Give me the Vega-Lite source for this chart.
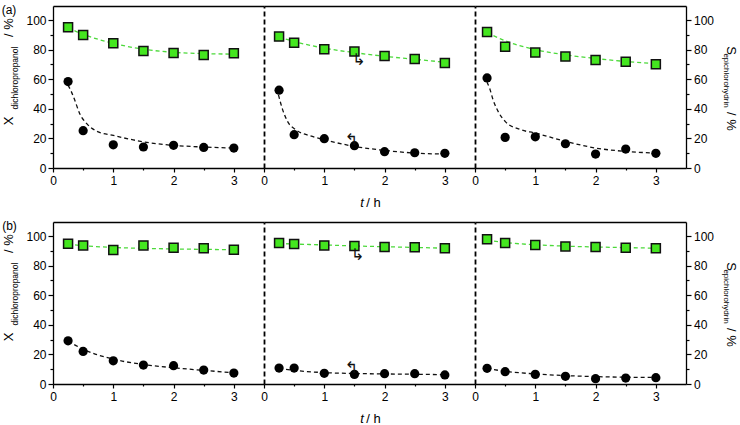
{
  "$schema": "https://vega.github.io/schema/vega-lite/v6.json",
  "padding": {"left": 1, "top": 3, "right": 2, "bottom": 2},
  "background": "white",
  "datasets": {
    "pts": [
      {"row":"a","panel":1,"series":"S","t":0.25,"value":95.1},{"row":"a","panel":1,"series":"S","t":0.5,"value":89.9},{"row":"a","panel":1,"series":"S","t":1,"value":84.3},{"row":"a","panel":1,"series":"S","t":1.5,"value":79.1},{"row":"a","panel":1,"series":"S","t":2,"value":77.8},{"row":"a","panel":1,"series":"S","t":2.5,"value":76.4},{"row":"a","panel":1,"series":"S","t":3,"value":77.5},
      {"row":"a","panel":1,"series":"X","t":0.25,"value":58.4},{"row":"a","panel":1,"series":"X","t":0.5,"value":25.2},{"row":"a","panel":1,"series":"X","t":1,"value":15.7},{"row":"a","panel":1,"series":"X","t":1.5,"value":14.2},{"row":"a","panel":1,"series":"X","t":2,"value":15.3},{"row":"a","panel":1,"series":"X","t":2.5,"value":13.9},{"row":"a","panel":1,"series":"X","t":3,"value":13.5},
      {"row":"a","panel":2,"series":"S","t":0.25,"value":88.8},{"row":"a","panel":2,"series":"S","t":0.5,"value":84.7},{"row":"a","panel":2,"series":"S","t":1,"value":80.2},{"row":"a","panel":2,"series":"S","t":1.5,"value":78.7},{"row":"a","panel":2,"series":"S","t":2,"value":75.7},{"row":"a","panel":2,"series":"S","t":2.5,"value":73.7},{"row":"a","panel":2,"series":"S","t":3,"value":71.0},
      {"row":"a","panel":2,"series":"X","t":0.25,"value":52.6},{"row":"a","panel":2,"series":"X","t":0.5,"value":22.5},{"row":"a","panel":2,"series":"X","t":1,"value":19.8},{"row":"a","panel":2,"series":"X","t":1.5,"value":15.1},{"row":"a","panel":2,"series":"X","t":2,"value":11.0},{"row":"a","panel":2,"series":"X","t":2.5,"value":10.3},{"row":"a","panel":2,"series":"X","t":3,"value":9.9},
      {"row":"a","panel":3,"series":"S","t":0.2,"value":91.9},{"row":"a","panel":3,"series":"S","t":0.5,"value":82.0},{"row":"a","panel":3,"series":"S","t":1,"value":78.0},{"row":"a","panel":3,"series":"S","t":1.5,"value":75.3},{"row":"a","panel":3,"series":"S","t":2,"value":73.0},{"row":"a","panel":3,"series":"S","t":2.5,"value":71.9},{"row":"a","panel":3,"series":"S","t":3,"value":70.1},
      {"row":"a","panel":3,"series":"X","t":0.2,"value":60.9},{"row":"a","panel":3,"series":"X","t":0.5,"value":20.7},{"row":"a","panel":3,"series":"X","t":1,"value":21.1},{"row":"a","panel":3,"series":"X","t":1.5,"value":16.4},{"row":"a","panel":3,"series":"X","t":2,"value":9.4},{"row":"a","panel":3,"series":"X","t":2.5,"value":12.8},{"row":"a","panel":3,"series":"X","t":3,"value":9.9},
      {"row":"b","panel":1,"series":"S","t":0.25,"value":94.8},{"row":"b","panel":1,"series":"S","t":0.5,"value":93.7},{"row":"b","panel":1,"series":"S","t":1,"value":90.6},{"row":"b","panel":1,"series":"S","t":1.5,"value":93.7},{"row":"b","panel":1,"series":"S","t":2,"value":92.1},{"row":"b","panel":1,"series":"S","t":2.5,"value":91.7},{"row":"b","panel":1,"series":"S","t":3,"value":90.8},
      {"row":"b","panel":1,"series":"X","t":0.25,"value":29.2},{"row":"b","panel":1,"series":"X","t":0.5,"value":22.0},{"row":"b","panel":1,"series":"X","t":1,"value":15.7},{"row":"b","panel":1,"series":"X","t":1.5,"value":12.8},{"row":"b","panel":1,"series":"X","t":2,"value":12.4},{"row":"b","panel":1,"series":"X","t":2.5,"value":9.4},{"row":"b","panel":1,"series":"X","t":3,"value":7.4},
      {"row":"b","panel":2,"series":"S","t":0.25,"value":95.3},{"row":"b","panel":2,"series":"S","t":0.5,"value":94.6},{"row":"b","panel":2,"series":"S","t":1,"value":93.7},{"row":"b","panel":2,"series":"S","t":1.5,"value":93.3},{"row":"b","panel":2,"series":"S","t":2,"value":92.6},{"row":"b","panel":2,"series":"S","t":2.5,"value":92.4},{"row":"b","panel":2,"series":"S","t":3,"value":91.7},
      {"row":"b","panel":2,"series":"X","t":0.25,"value":10.8},{"row":"b","panel":2,"series":"X","t":0.5,"value":10.8},{"row":"b","panel":2,"series":"X","t":1,"value":7.2},{"row":"b","panel":2,"series":"X","t":1.5,"value":6.5},{"row":"b","panel":2,"series":"X","t":2,"value":7.0},{"row":"b","panel":2,"series":"X","t":2.5,"value":7.0},{"row":"b","panel":2,"series":"X","t":3,"value":6.1},
      {"row":"b","panel":3,"series":"S","t":0.2,"value":97.8},{"row":"b","panel":3,"series":"S","t":0.5,"value":95.3},{"row":"b","panel":3,"series":"S","t":1,"value":93.9},{"row":"b","panel":3,"series":"S","t":1.5,"value":93.0},{"row":"b","panel":3,"series":"S","t":2,"value":92.6},{"row":"b","panel":3,"series":"S","t":2.5,"value":92.1},{"row":"b","panel":3,"series":"S","t":3,"value":91.7},
      {"row":"b","panel":3,"series":"X","t":0.2,"value":10.6},{"row":"b","panel":3,"series":"X","t":0.5,"value":8.3},{"row":"b","panel":3,"series":"X","t":1,"value":6.5},{"row":"b","panel":3,"series":"X","t":1.5,"value":5.2},{"row":"b","panel":3,"series":"X","t":2,"value":3.6},{"row":"b","panel":3,"series":"X","t":2.5,"value":4.0},{"row":"b","panel":3,"series":"X","t":3,"value":4.3}
    ],
    "fit": [
      {"row":"a","panel":1,"series":"S","t":0.25,"value":95},{"row":"a","panel":1,"series":"S","t":0.5,"value":90.3},{"row":"a","panel":1,"series":"S","t":0.75,"value":87},{"row":"a","panel":1,"series":"S","t":1,"value":84.3},{"row":"a","panel":1,"series":"S","t":1.5,"value":80.3},{"row":"a","panel":1,"series":"S","t":2,"value":78.2},{"row":"a","panel":1,"series":"S","t":2.5,"value":77.3},{"row":"a","panel":1,"series":"S","t":3,"value":77},
      {"row":"a","panel":1,"series":"X","t":0.25,"value":56},{"row":"a","panel":1,"series":"X","t":0.3,"value":52},{"row":"a","panel":1,"series":"X","t":0.36,"value":46},{"row":"a","panel":1,"series":"X","t":0.44,"value":37},{"row":"a","panel":1,"series":"X","t":0.56,"value":30},{"row":"a","panel":1,"series":"X","t":0.72,"value":25},{"row":"a","panel":1,"series":"X","t":1,"value":22},{"row":"a","panel":1,"series":"X","t":1.33,"value":19},{"row":"a","panel":1,"series":"X","t":1.61,"value":17},{"row":"a","panel":1,"series":"X","t":2,"value":15.3},{"row":"a","panel":1,"series":"X","t":2.5,"value":14.2},{"row":"a","panel":1,"series":"X","t":3,"value":13.5},
      {"row":"a","panel":2,"series":"S","t":0.25,"value":88.5},{"row":"a","panel":2,"series":"S","t":0.5,"value":85.5},{"row":"a","panel":2,"series":"S","t":1,"value":81},{"row":"a","panel":2,"series":"S","t":1.5,"value":78},{"row":"a","panel":2,"series":"S","t":2,"value":75.5},{"row":"a","panel":2,"series":"S","t":2.5,"value":73.5},{"row":"a","panel":2,"series":"S","t":3,"value":71.5},
      {"row":"a","panel":2,"series":"X","t":0.24,"value":49.4},{"row":"a","panel":2,"series":"X","t":0.31,"value":39.3},{"row":"a","panel":2,"series":"X","t":0.39,"value":31.5},{"row":"a","panel":2,"series":"X","t":0.53,"value":25.8},{"row":"a","panel":2,"series":"X","t":0.76,"value":21.8},{"row":"a","panel":2,"series":"X","t":1,"value":19.1},{"row":"a","panel":2,"series":"X","t":1.5,"value":14.6},{"row":"a","panel":2,"series":"X","t":2,"value":11.9},{"row":"a","panel":2,"series":"X","t":2.5,"value":10.1},{"row":"a","panel":2,"series":"X","t":3,"value":9.4},
      {"row":"a","panel":3,"series":"S","t":0.2,"value":91.5},{"row":"a","panel":3,"series":"S","t":0.5,"value":86},{"row":"a","panel":3,"series":"S","t":1,"value":80},{"row":"a","panel":3,"series":"S","t":1.5,"value":76.5},{"row":"a","panel":3,"series":"S","t":2,"value":74},{"row":"a","panel":3,"series":"S","t":2.5,"value":72},{"row":"a","panel":3,"series":"S","t":3,"value":70.5},
      {"row":"a","panel":3,"series":"X","t":0.2,"value":58},{"row":"a","panel":3,"series":"X","t":0.25,"value":53},{"row":"a","panel":3,"series":"X","t":0.3,"value":46},{"row":"a","panel":3,"series":"X","t":0.35,"value":41},{"row":"a","panel":3,"series":"X","t":0.4,"value":37},{"row":"a","panel":3,"series":"X","t":0.5,"value":31.5},{"row":"a","panel":3,"series":"X","t":0.75,"value":26},{"row":"a","panel":3,"series":"X","t":1,"value":23.6},{"row":"a","panel":3,"series":"X","t":1.5,"value":18},{"row":"a","panel":3,"series":"X","t":2,"value":13.5},{"row":"a","panel":3,"series":"X","t":2.5,"value":11.2},{"row":"a","panel":3,"series":"X","t":3,"value":10.1},
      {"row":"b","panel":1,"series":"S","t":0.25,"value":94.5},{"row":"b","panel":1,"series":"S","t":0.5,"value":93.5},{"row":"b","panel":1,"series":"S","t":1,"value":92.3},{"row":"b","panel":1,"series":"S","t":1.5,"value":91.7},{"row":"b","panel":1,"series":"S","t":2,"value":91.3},{"row":"b","panel":1,"series":"S","t":2.5,"value":91},{"row":"b","panel":1,"series":"S","t":3,"value":90.8},
      {"row":"b","panel":1,"series":"X","t":0.25,"value":29},{"row":"b","panel":1,"series":"X","t":0.5,"value":23.5},{"row":"b","panel":1,"series":"X","t":1,"value":16.8},{"row":"b","panel":1,"series":"X","t":1.5,"value":13.2},{"row":"b","panel":1,"series":"X","t":2,"value":11},{"row":"b","panel":1,"series":"X","t":2.5,"value":9.2},{"row":"b","panel":1,"series":"X","t":3,"value":7.6},
      {"row":"b","panel":2,"series":"S","t":0.25,"value":95},{"row":"b","panel":2,"series":"S","t":0.5,"value":94.6},{"row":"b","panel":2,"series":"S","t":1,"value":94},{"row":"b","panel":2,"series":"S","t":1.5,"value":93.3},{"row":"b","panel":2,"series":"S","t":2,"value":92.8},{"row":"b","panel":2,"series":"S","t":2.5,"value":92.3},{"row":"b","panel":2,"series":"S","t":3,"value":91.8},
      {"row":"b","panel":2,"series":"X","t":0.25,"value":10.5},{"row":"b","panel":2,"series":"X","t":0.5,"value":9.2},{"row":"b","panel":2,"series":"X","t":1,"value":7.7},{"row":"b","panel":2,"series":"X","t":1.5,"value":7.1},{"row":"b","panel":2,"series":"X","t":2,"value":6.8},{"row":"b","panel":2,"series":"X","t":2.5,"value":6.6},{"row":"b","panel":2,"series":"X","t":3,"value":6.3},
      {"row":"b","panel":3,"series":"S","t":0.2,"value":97.2},{"row":"b","panel":3,"series":"S","t":0.5,"value":95.6},{"row":"b","panel":3,"series":"S","t":1,"value":94.1},{"row":"b","panel":3,"series":"S","t":1.5,"value":93.2},{"row":"b","panel":3,"series":"S","t":2,"value":92.6},{"row":"b","panel":3,"series":"S","t":2.5,"value":92.2},{"row":"b","panel":3,"series":"S","t":3,"value":91.8},
      {"row":"b","panel":3,"series":"X","t":0.2,"value":10.5},{"row":"b","panel":3,"series":"X","t":0.5,"value":8.6},{"row":"b","panel":3,"series":"X","t":1,"value":6.8},{"row":"b","panel":3,"series":"X","t":1.5,"value":5.7},{"row":"b","panel":3,"series":"X","t":2,"value":5.0},{"row":"b","panel":3,"series":"X","t":2.5,"value":4.6},{"row":"b","panel":3,"series":"X","t":3,"value":4.4}
    ],
    "arrows": [
      {"row":"a","panel":2,"t":1.57,"value":73,"glyph":"↳"},
      {"row":"a","panel":2,"t":1.45,"value":19,"glyph":"↰"},
      {"row":"b","panel":2,"t":1.55,"value":87,"glyph":"↳"},
      {"row":"b","panel":2,"t":1.45,"value":11,"glyph":"↰"}
    ]
  },
  "vconcat": [
    {
      "hconcat": [
        {
          "width": 211, "height": 162,
          "layer": [
            {"data":{"name":"fit"},"transform":[{"filter":"datum.row==='a' && datum.panel===1 && datum.series==='S'"}],
             "mark":{"type":"line","color":"#4cd93a","strokeDash":[4,3],"strokeWidth":1.3,"interpolate":"monotone"},
             "encoding":{
               "x":{"field":"t","type":"quantitative","scale":{"domain":[0,3.5],"nice":false,"zero":false},"axis":{"orient":"bottom","values":[0,1,2,3],"tickSize":4,"labelPadding":3,"title":null}},
               "y":{"field":"value","type":"quantitative","scale":{"domain":[0,109.5],"nice":false},"axis":{"orient":"left","values":[0,20,40,60,80,100],"tickSize":5,"title":"X","titleFontSize":13,"titleAngle":-90,"titleX":-44.6,"titleY":114.5,"titleAlign":"center","titleBaseline":"middle"}}}},
            {"data":{"name":"fit"},"transform":[{"filter":"datum.row==='a' && datum.panel===1 && datum.series==='X'"}],
             "mark":{"type":"line","color":"#111","strokeDash":[4,3],"strokeWidth":1.3,"interpolate":"monotone"},
             "encoding":{
               "x":{"field":"t","type":"quantitative","scale":{"domain":[0,3.5],"nice":false,"zero":false},"axis":{"orient":"bottom","values":[0.5,1.5,2.5],"tickSize":2,"labels":false,"domain":false,"title":null}},
               "y":{"field":"value","type":"quantitative","scale":{"domain":[0,109.5],"nice":false},"axis":{"orient":"left","values":[10,30,50,70,90],"tickSize":3,"labels":false,"domain":false,"title":"dichloropropanol","titleFontSize":8.5,"titleAngle":-90,"titleX":-39,"titleY":71.5,"titleAlign":"center","titleBaseline":"middle"}}}},
            {"data":{"name":"pts"},"transform":[{"filter":"datum.row==='a' && datum.panel===1 && datum.series==='S'"}],
             "mark":{"type":"square","fill":"#44e61f","stroke":"#111","strokeWidth":1.5,"size":81,"opacity":1},
             "encoding":{
               "x":{"field":"t","type":"quantitative","scale":{"domain":[0,3.5],"nice":false,"zero":false},"axis":{"orient":"top","ticks":false,"labels":false,"title":"(a)","titleFontSize":12,"titleAngle":0,"titleX":-44.5,"titleY":3,"titleAlign":"center","titleBaseline":"middle"}},
               "y":{"field":"value","type":"quantitative","scale":{"domain":[0,109.5],"nice":false},"axis":{"orient":"left","domain":false,"ticks":false,"labels":false,"title":"/ %","titleFontSize":13,"titleAngle":-90,"titleX":-44.4,"titleY":21,"titleAlign":"center","titleBaseline":"middle"}}}},
            {"data":{"name":"pts"},"transform":[{"filter":"datum.row==='a' && datum.panel===1 && datum.series==='X'"}],
             "mark":{"type":"circle","color":"#000","size":85,"opacity":1},
             "encoding":{
               "x":{"field":"t","type":"quantitative","scale":{"domain":[0,3.5],"nice":false,"zero":false},"axis":null},
               "y":{"field":"value","type":"quantitative","scale":{"domain":[0,109.5],"nice":false},"axis":null}}}
          ],
          "resolve":{"axis":{"x":"independent","y":"independent"}}
        },
        {
          "width": 211, "height": 162,
          "layer": [
            {"data":{"name":"fit"},"transform":[{"filter":"datum.row==='a' && datum.panel===2 && datum.series==='S'"}],
             "mark":{"type":"line","color":"#4cd93a","strokeDash":[4,3],"strokeWidth":1.3,"interpolate":"monotone"},
             "encoding":{
               "x":{"field":"t","type":"quantitative","scale":{"domain":[0,3.5],"nice":false,"zero":false},"axis":{"orient":"bottom","values":[0,1,2,3],"tickSize":4,"labelPadding":3,"title":"t","titleFontStyle":"italic","titleFontSize":13,"titleX":97.5,"titleY":34,"titleAlign":"center","titleBaseline":"middle"}},
               "y":{"field":"value","type":"quantitative","scale":{"domain":[0,109.5],"nice":false},"axis":{"orient":"left","ticks":false,"labels":false,"domainDash":[5,3],"domainWidth":1.8,"title":null}}}},
            {"data":{"name":"fit"},"transform":[{"filter":"datum.row==='a' && datum.panel===2 && datum.series==='X'"}],
             "mark":{"type":"line","color":"#111","strokeDash":[4,3],"strokeWidth":1.3,"interpolate":"monotone"},
             "encoding":{
               "x":{"field":"t","type":"quantitative","scale":{"domain":[0,3.5],"nice":false,"zero":false},"axis":{"orient":"bottom","values":[0.5,1.5,2.5],"tickSize":2,"labels":false,"domain":false,"title":"/ h","titleFontSize":13,"titleX":109,"titleY":34,"titleAlign":"center","titleBaseline":"middle"}},
               "y":{"field":"value","type":"quantitative","scale":{"domain":[0,109.5],"nice":false},"axis":null}}},
            {"data":{"name":"pts"},"transform":[{"filter":"datum.row==='a' && datum.panel===2 && datum.series==='S'"}],
             "mark":{"type":"square","fill":"#44e61f","stroke":"#111","strokeWidth":1.5,"size":81,"opacity":1},
             "encoding":{
               "x":{"field":"t","type":"quantitative","scale":{"domain":[0,3.5],"nice":false,"zero":false},"axis":{"orient":"top","ticks":false,"labels":false,"title":null}},
               "y":{"field":"value","type":"quantitative","scale":{"domain":[0,109.5],"nice":false},"axis":null}}},
            {"data":{"name":"pts"},"transform":[{"filter":"datum.row==='a' && datum.panel===2 && datum.series==='X'"}],
             "mark":{"type":"circle","color":"#000","size":85,"opacity":1},
             "encoding":{
               "x":{"field":"t","type":"quantitative","scale":{"domain":[0,3.5],"nice":false,"zero":false},"axis":null},
               "y":{"field":"value","type":"quantitative","scale":{"domain":[0,109.5],"nice":false},"axis":null}}},
            {"data":{"name":"arrows"},"transform":[{"filter":"datum.row==='a' && datum.panel===2"}],
             "mark":{"type":"text","font":"DejaVu Sans","fontSize":16,"color":"#111"},
             "encoding":{
               "x":{"field":"t","type":"quantitative","scale":{"domain":[0,3.5],"nice":false,"zero":false},"axis":null},
               "y":{"field":"value","type":"quantitative","scale":{"domain":[0,109.5],"nice":false},"axis":null},
               "text":{"field":"glyph"}}}
          ],
          "resolve":{"axis":{"x":"independent","y":"independent"}}
        },
        {
          "width": 211, "height": 162,
          "layer": [
            {"data":{"name":"fit"},"transform":[{"filter":"datum.row==='a' && datum.panel===3 && datum.series==='S'"}],
             "mark":{"type":"line","color":"#4cd93a","strokeDash":[4,3],"strokeWidth":1.3,"interpolate":"monotone"},
             "encoding":{
               "x":{"field":"t","type":"quantitative","scale":{"domain":[0,3.5],"nice":false,"zero":false},"axis":{"orient":"bottom","values":[0,1,2,3],"tickSize":4,"labelPadding":3,"title":null}},
               "y":{"field":"value","type":"quantitative","scale":{"domain":[0,109.5],"nice":false},"axis":{"orient":"left","ticks":false,"labels":false,"domainDash":[5,3],"domainWidth":1.8,"title":"S","titleFontSize":13,"titleAngle":90,"titleX":255.7,"titleY":44,"titleAlign":"center","titleBaseline":"middle"}}}},
            {"data":{"name":"fit"},"transform":[{"filter":"datum.row==='a' && datum.panel===3 && datum.series==='X'"}],
             "mark":{"type":"line","color":"#111","strokeDash":[4,3],"strokeWidth":1.3,"interpolate":"monotone"},
             "encoding":{
               "x":{"field":"t","type":"quantitative","scale":{"domain":[0,3.5],"nice":false,"zero":false},"axis":{"orient":"bottom","values":[0.5,1.5,2.5],"tickSize":2,"labels":false,"domain":false,"title":null}},
               "y":{"field":"value","type":"quantitative","scale":{"domain":[0,109.5],"nice":false},"axis":{"orient":"right","values":[0,20,40,60,80,100],"tickSize":5,"labelPadding":2.5,"title":null}}}},
            {"data":{"name":"pts"},"transform":[{"filter":"datum.row==='a' && datum.panel===3 && datum.series==='S'"}],
             "mark":{"type":"square","fill":"#44e61f","stroke":"#111","strokeWidth":1.5,"size":81,"opacity":1},
             "encoding":{
               "x":{"field":"t","type":"quantitative","scale":{"domain":[0,3.5],"nice":false,"zero":false},"axis":{"orient":"top","ticks":false,"labels":false,"title":"epichlorohydrin","titleFontSize":8,"titleAngle":90,"titleX":250.7,"titleY":74,"titleAlign":"center","titleBaseline":"middle"}},
               "y":{"field":"value","type":"quantitative","scale":{"domain":[0,109.5],"nice":false},"axis":{"orient":"right","values":[10,30,50,70,90],"tickSize":3,"labels":false,"domain":false,"title":null}}}},
            {"data":{"name":"pts"},"transform":[{"filter":"datum.row==='a' && datum.panel===3 && datum.series==='X'"}],
             "mark":{"type":"circle","color":"#000","size":85,"opacity":1},
             "encoding":{
               "x":{"field":"t","type":"quantitative","scale":{"domain":[0,3.5],"nice":false,"zero":false},"axis":null},
               "y":{"field":"value","type":"quantitative","scale":{"domain":[0,109.5],"nice":false},"axis":{"orient":"right","domain":false,"ticks":false,"labels":false,"title":"/ %","titleFontSize":13,"titleAngle":90,"titleX":44,"titleY":115,"titleAlign":"center","titleBaseline":"middle"}}}}
          ],
          "resolve":{"axis":{"x":"independent","y":"independent"}}
        }
      ],
      "spacing": 0,
      "bounds": "flush"
    },
    {
      "hconcat": [
        {
          "width": 211, "height": 162,
          "layer": [
            {"data":{"name":"fit"},"transform":[{"filter":"datum.row==='b' && datum.panel===1 && datum.series==='S'"}],
             "mark":{"type":"line","color":"#4cd93a","strokeDash":[4,3],"strokeWidth":1.3,"interpolate":"monotone"},
             "encoding":{
               "x":{"field":"t","type":"quantitative","scale":{"domain":[0,3.5],"nice":false,"zero":false},"axis":{"orient":"bottom","values":[0,1,2,3],"tickSize":4,"labelPadding":3,"title":null}},
               "y":{"field":"value","type":"quantitative","scale":{"domain":[0,109.5],"nice":false},"axis":{"orient":"left","values":[0,20,40,60,80,100],"tickSize":5,"title":"X","titleFontSize":13,"titleAngle":-90,"titleX":-44.6,"titleY":114.5,"titleAlign":"center","titleBaseline":"middle"}}}},
            {"data":{"name":"fit"},"transform":[{"filter":"datum.row==='b' && datum.panel===1 && datum.series==='X'"}],
             "mark":{"type":"line","color":"#111","strokeDash":[4,3],"strokeWidth":1.3,"interpolate":"monotone"},
             "encoding":{
               "x":{"field":"t","type":"quantitative","scale":{"domain":[0,3.5],"nice":false,"zero":false},"axis":{"orient":"bottom","values":[0.5,1.5,2.5],"tickSize":2,"labels":false,"domain":false,"title":null}},
               "y":{"field":"value","type":"quantitative","scale":{"domain":[0,109.5],"nice":false},"axis":{"orient":"left","values":[10,30,50,70,90],"tickSize":3,"labels":false,"domain":false,"title":"dichloropropanol","titleFontSize":8.5,"titleAngle":-90,"titleX":-39,"titleY":71.5,"titleAlign":"center","titleBaseline":"middle"}}}},
            {"data":{"name":"pts"},"transform":[{"filter":"datum.row==='b' && datum.panel===1 && datum.series==='S'"}],
             "mark":{"type":"square","fill":"#44e61f","stroke":"#111","strokeWidth":1.5,"size":81,"opacity":1},
             "encoding":{
               "x":{"field":"t","type":"quantitative","scale":{"domain":[0,3.5],"nice":false,"zero":false},"axis":{"orient":"top","ticks":false,"labels":false,"title":"(b)","titleFontSize":12,"titleAngle":0,"titleX":-44,"titleY":3,"titleAlign":"center","titleBaseline":"middle"}},
               "y":{"field":"value","type":"quantitative","scale":{"domain":[0,109.5],"nice":false},"axis":{"orient":"left","domain":false,"ticks":false,"labels":false,"title":"/ %","titleFontSize":13,"titleAngle":-90,"titleX":-44.4,"titleY":21,"titleAlign":"center","titleBaseline":"middle"}}}},
            {"data":{"name":"pts"},"transform":[{"filter":"datum.row==='b' && datum.panel===1 && datum.series==='X'"}],
             "mark":{"type":"circle","color":"#000","size":85,"opacity":1},
             "encoding":{
               "x":{"field":"t","type":"quantitative","scale":{"domain":[0,3.5],"nice":false,"zero":false},"axis":null},
               "y":{"field":"value","type":"quantitative","scale":{"domain":[0,109.5],"nice":false},"axis":null}}}
          ],
          "resolve":{"axis":{"x":"independent","y":"independent"}}
        },
        {
          "width": 211, "height": 162,
          "layer": [
            {"data":{"name":"fit"},"transform":[{"filter":"datum.row==='b' && datum.panel===2 && datum.series==='S'"}],
             "mark":{"type":"line","color":"#4cd93a","strokeDash":[4,3],"strokeWidth":1.3,"interpolate":"monotone"},
             "encoding":{
               "x":{"field":"t","type":"quantitative","scale":{"domain":[0,3.5],"nice":false,"zero":false},"axis":{"orient":"bottom","values":[0,1,2,3],"tickSize":4,"labelPadding":3,"title":"t","titleFontStyle":"italic","titleFontSize":13,"titleX":97.5,"titleY":34,"titleAlign":"center","titleBaseline":"middle"}},
               "y":{"field":"value","type":"quantitative","scale":{"domain":[0,109.5],"nice":false},"axis":{"orient":"left","ticks":false,"labels":false,"domainDash":[5,3],"domainWidth":1.8,"title":null}}}},
            {"data":{"name":"fit"},"transform":[{"filter":"datum.row==='b' && datum.panel===2 && datum.series==='X'"}],
             "mark":{"type":"line","color":"#111","strokeDash":[4,3],"strokeWidth":1.3,"interpolate":"monotone"},
             "encoding":{
               "x":{"field":"t","type":"quantitative","scale":{"domain":[0,3.5],"nice":false,"zero":false},"axis":{"orient":"bottom","values":[0.5,1.5,2.5],"tickSize":2,"labels":false,"domain":false,"title":"/ h","titleFontSize":13,"titleX":109,"titleY":34,"titleAlign":"center","titleBaseline":"middle"}},
               "y":{"field":"value","type":"quantitative","scale":{"domain":[0,109.5],"nice":false},"axis":null}}},
            {"data":{"name":"pts"},"transform":[{"filter":"datum.row==='b' && datum.panel===2 && datum.series==='S'"}],
             "mark":{"type":"square","fill":"#44e61f","stroke":"#111","strokeWidth":1.5,"size":81,"opacity":1},
             "encoding":{
               "x":{"field":"t","type":"quantitative","scale":{"domain":[0,3.5],"nice":false,"zero":false},"axis":{"orient":"top","ticks":false,"labels":false,"title":null}},
               "y":{"field":"value","type":"quantitative","scale":{"domain":[0,109.5],"nice":false},"axis":null}}},
            {"data":{"name":"pts"},"transform":[{"filter":"datum.row==='b' && datum.panel===2 && datum.series==='X'"}],
             "mark":{"type":"circle","color":"#000","size":85,"opacity":1},
             "encoding":{
               "x":{"field":"t","type":"quantitative","scale":{"domain":[0,3.5],"nice":false,"zero":false},"axis":null},
               "y":{"field":"value","type":"quantitative","scale":{"domain":[0,109.5],"nice":false},"axis":null}}},
            {"data":{"name":"arrows"},"transform":[{"filter":"datum.row==='b' && datum.panel===2"}],
             "mark":{"type":"text","font":"DejaVu Sans","fontSize":16,"color":"#111"},
             "encoding":{
               "x":{"field":"t","type":"quantitative","scale":{"domain":[0,3.5],"nice":false,"zero":false},"axis":null},
               "y":{"field":"value","type":"quantitative","scale":{"domain":[0,109.5],"nice":false},"axis":null},
               "text":{"field":"glyph"}}}
          ],
          "resolve":{"axis":{"x":"independent","y":"independent"}}
        },
        {
          "width": 211, "height": 162,
          "layer": [
            {"data":{"name":"fit"},"transform":[{"filter":"datum.row==='b' && datum.panel===3 && datum.series==='S'"}],
             "mark":{"type":"line","color":"#4cd93a","strokeDash":[4,3],"strokeWidth":1.3,"interpolate":"monotone"},
             "encoding":{
               "x":{"field":"t","type":"quantitative","scale":{"domain":[0,3.5],"nice":false,"zero":false},"axis":{"orient":"bottom","values":[0,1,2,3],"tickSize":4,"labelPadding":3,"title":null}},
               "y":{"field":"value","type":"quantitative","scale":{"domain":[0,109.5],"nice":false},"axis":{"orient":"left","ticks":false,"labels":false,"domainDash":[5,3],"domainWidth":1.8,"title":"S","titleFontSize":13,"titleAngle":90,"titleX":255.7,"titleY":44,"titleAlign":"center","titleBaseline":"middle"}}}},
            {"data":{"name":"fit"},"transform":[{"filter":"datum.row==='b' && datum.panel===3 && datum.series==='X'"}],
             "mark":{"type":"line","color":"#111","strokeDash":[4,3],"strokeWidth":1.3,"interpolate":"monotone"},
             "encoding":{
               "x":{"field":"t","type":"quantitative","scale":{"domain":[0,3.5],"nice":false,"zero":false},"axis":{"orient":"bottom","values":[0.5,1.5,2.5],"tickSize":2,"labels":false,"domain":false,"title":null}},
               "y":{"field":"value","type":"quantitative","scale":{"domain":[0,109.5],"nice":false},"axis":{"orient":"right","values":[0,20,40,60,80,100],"tickSize":5,"labelPadding":2.5,"title":null}}}},
            {"data":{"name":"pts"},"transform":[{"filter":"datum.row==='b' && datum.panel===3 && datum.series==='S'"}],
             "mark":{"type":"square","fill":"#44e61f","stroke":"#111","strokeWidth":1.5,"size":81,"opacity":1},
             "encoding":{
               "x":{"field":"t","type":"quantitative","scale":{"domain":[0,3.5],"nice":false,"zero":false},"axis":{"orient":"top","ticks":false,"labels":false,"title":"epichlorohydrin","titleFontSize":8,"titleAngle":90,"titleX":250.7,"titleY":74,"titleAlign":"center","titleBaseline":"middle"}},
               "y":{"field":"value","type":"quantitative","scale":{"domain":[0,109.5],"nice":false},"axis":{"orient":"right","values":[10,30,50,70,90],"tickSize":3,"labels":false,"domain":false,"title":null}}}},
            {"data":{"name":"pts"},"transform":[{"filter":"datum.row==='b' && datum.panel===3 && datum.series==='X'"}],
             "mark":{"type":"circle","color":"#000","size":85,"opacity":1},
             "encoding":{
               "x":{"field":"t","type":"quantitative","scale":{"domain":[0,3.5],"nice":false,"zero":false},"axis":null},
               "y":{"field":"value","type":"quantitative","scale":{"domain":[0,109.5],"nice":false},"axis":{"orient":"right","domain":false,"ticks":false,"labels":false,"title":"/ %","titleFontSize":13,"titleAngle":90,"titleX":44,"titleY":115,"titleAlign":"center","titleBaseline":"middle"}}}}
          ],
          "resolve":{"axis":{"x":"independent","y":"independent"}}
        }
      ],
      "spacing": 0,
      "bounds": "flush"
    }
  ],
  "spacing": 10,
  "config": {
    "view": {"stroke": null},
    "axis": {
      "grid": false, "labelFlush": false,
      "labelFont": "Liberation Sans", "labelFontSize": 12, "labelColor": "#000", "labelPadding": 2,
      "titleFont": "Liberation Sans", "titleColor": "#000", "titleFontWeight": "normal",
      "tickColor": "#000", "domainColor": "#000", "tickWidth": 1.2, "domainWidth": 1.3
    }
  }
}
